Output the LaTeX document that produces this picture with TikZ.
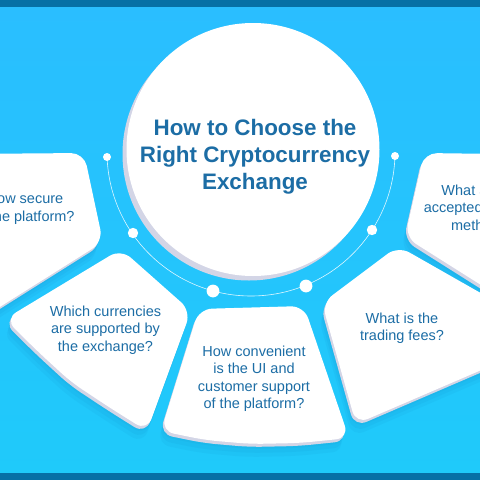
\documentclass[tikz,border=0pt]{standalone}
\usepackage{fontspec}
\setmainfont{Liberation Sans}
\usetikzlibrary{calc}
\definecolor{bgtop}{HTML}{2ABEFF}
\definecolor{bgbot}{HTML}{1FCAFA}
\definecolor{barblue}{HTML}{0670A6}
\definecolor{txtblue}{HTML}{1C6DA5}
\definecolor{rimgray}{HTML}{D3D5E6}
\definecolor{shadowblue}{HTML}{0A5C9A}
\newcommand\panelOne{(-40,154) -- (84,153) -- (103,242) -- (-40,332) -- cycle}
\newcommand\panelTwo{(121,249) -- (5,319) -- (37.4,351.1) -- (71.2,382.1) -- (109.4,407.4) -- (147,431) -- (191,311) -- cycle}
\newcommand\panelThree{(199,309) -- (161,431) -- (205,440) -- (251,444) -- (300,443) -- (349,438) -- (304,306) -- cycle}
\newcommand\panelFour{(322,303) -- (398,246) -- (500,304) -- (500,362) -- (356,424) -- cycle}
\newcommand\panelFive{(500,154) -- (424,153) -- (405,237) -- (500,297) -- cycle}
\begin{document}
\begin{tikzpicture}[x=1pt,y=-1pt,
  panelfill/.style={fill=white, rounded corners=13pt},
  panelrim/.style={fill=rimgray, rounded corners=13pt, shift={(-1.5,3)}},
  panelshade/.style={fill=shadowblue, fill opacity=0.05, rounded corners=13pt},
  title/.style={text=txtblue, font=\fontsize{22.4}{27}\selectfont\bfseries, anchor=base},
  body/.style={text=txtblue, font=\fontsize{14.5}{17.5}\selectfont, anchor=base},
  dot/.style={fill=white}]
\useasboundingbox (0,0) rectangle (480,480);
% background
\shade[top color=bgtop, bottom color=bgbot] (0,0) rectangle (480,480);
% soft shadows
\foreach \s in {{(-2,5)},{(-3,9)},{(-4,13)}}{
  \fill[panelshade, shift=\s] \panelOne;
  \fill[panelshade, shift=\s] \panelTwo;
  \fill[panelshade, shift=\s] \panelThree;
  \fill[panelshade, shift=\s] \panelFour;
  \fill[panelshade, shift=\s] \panelFive;
}
% rims
\fill[panelrim] \panelOne;
\fill[panelrim] \panelTwo;
\fill[panelrim] \panelThree;
\fill[panelrim] \panelFour;
\fill[panelrim] \panelFive;
% panels
\fill[panelfill] \panelOne;
\fill[panelfill] \panelTwo;
\fill[panelfill] \panelThree;
\fill[panelfill] \panelFour;
\fill[panelfill] \panelFive;
% big circle
\fill[rimgray] (249,154) circle (126.5);
\fill[white] (253,149.5) circle (126.5);
% ring arc and dots
\coordinate (C) at (251,152);
\draw[white, line width=0.6pt, opacity=0.85] (C) ++(178:144) arc[start angle=178, end angle=2, radius=144];
\fill[dot] (107,157) circle (4);
\fill[dot] (133,233) circle (5.2);
\fill[dot] (213,291) circle (6.4);
\fill[dot] (306,286) circle (6.4);
\fill[dot] (372,230) circle (5.2);
\fill[dot] (395,156) circle (4);
% bars
\fill[barblue] (0,0) rectangle (480,7);
\fill[barblue] (0,473) rectangle (480,480);
% title
\node[title] (ta) at (255,135) {How to Choose the};
\node[title] (tb) at (255,162) {Right Cryptocurrency};
\node[title] (tc) at (255,189) {Exchange};
% panel texts
\node[body] (p1a) at (25,203) {How secure};
\node[body] (p1b) at (25,221) {is the platform?};
\node[body] (p2a) at (105.5,316) {Which currencies};
\node[body] (p2b) at (105.5,333.5) {are supported by};
\node[body] (p2c) at (105.5,351) {the exchange?};
\node[body] (p3a) at (254,356) {How convenient};
\node[body] (p3b) at (254,373.5) {is the UI and};
\node[body] (p3c) at (254,391) {customer support};
\node[body] (p3d) at (254,408.5) {of the platform?};
\node[body] (p4a) at (402,323) {What is the};
\node[body] (p4b) at (402,340.5) {trading fees?};
\node[body] (p5a) at (483,195) {What are the};
\node[body] (p5b) at (483,212.5) {accepted payment};
\node[body] (p5c) at (483,230) {methods?};
\end{tikzpicture}
\end{document}
